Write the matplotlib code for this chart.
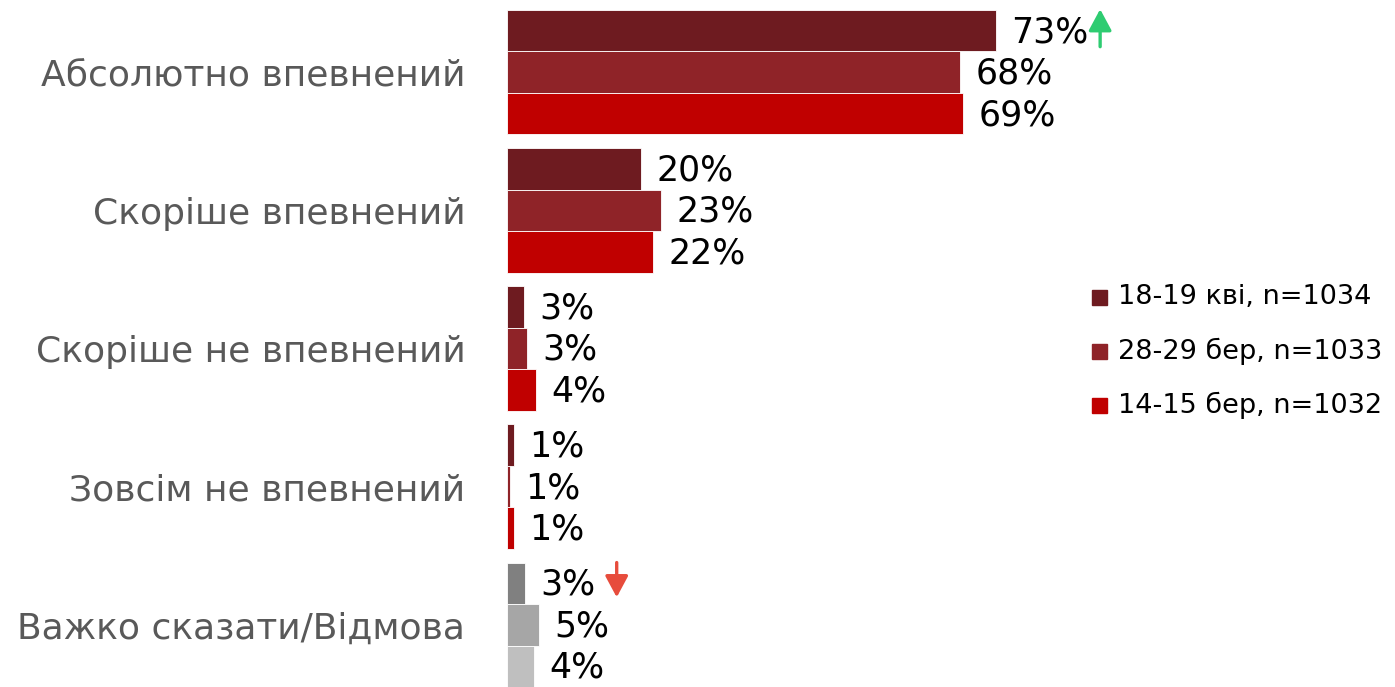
import matplotlib
matplotlib.use("Agg")
import matplotlib.pyplot as plt
import matplotlib.transforms as mtransforms
from matplotlib.patches import FancyArrowPatch
import numpy as np

categories = ["Абсолютно впевнений", "Скоріше впевнений", "Скоріше не впевнений",
              "Зовсім не впевнений", "Важко сказати/Відмова"]
series_names = ["18-19 кві, n=1034", "28-29 бер, n=1033", "14-15 бер, n=1032"]
apr18 = [73.2, 20.1, 2.5, 1.0, 2.7]
mar28 = [67.8, 23.1, 3.0, 0.4, 4.8]
mar14 = [68.3, 21.9, 4.3, 1.0, 4.0]
labels_apr18 = ["73%", "20%", "3%", "1%", "3%"]
labels_mar28 = ["68%", "23%", "3%", "1%", "5%"]
labels_mar14 = ["69%", "22%", "4%", "1%", "4%"]

colors = ["#6E1B20", "#8F2328", "#C00000"]
grays = ["#808080", "#A6A6A6", "#BFBFBF"]

W, H = 1395, 687
fig = plt.figure(figsize=(W / 100, H / 100), dpi=100)
ax = fig.add_axes([507 / W, 0.0, 668 / W, 677 / H])

h = 0.3
ypos = np.arange(len(categories))
series = [apr18, mar28, mar14]
labels = [labels_apr18, labels_mar28, labels_mar14]
for k, (vals, labs) in enumerate(zip(series, labels)):
    cols = [colors[k]] * (len(categories) - 1) + [grays[k]]
    y = ypos + (k - 1) * h
    ax.barh(y, vals, height=h, color=cols, edgecolor="white", linewidth=0.6)
    for yi, v, lab in zip(y, vals, labs):
        ax.annotate(lab, xy=(v, yi), xytext=(11, -1), textcoords="offset points",
                    ha="left", va="center", fontsize=25, color="black")

ax.set_xlim(0, 100)
ax.set_ylim(len(categories) - 1 + 1.5 * h, -1.5 * h)
ax.set_yticks(ypos)
ax.set_yticklabels(categories, fontsize=26, color="#595959")
ax.tick_params(axis="y", length=0, pad=30)
ax.set_xticks([])
for s in ax.spines.values():
    s.set_visible(False)


def trend_arrow(x, y, dx_pt, y0_pt, y1_pt, color):
    t0 = mtransforms.offset_copy(ax.transData, fig, x=dx_pt, y=y0_pt, units="points")
    t1 = mtransforms.offset_copy(ax.transData, fig, x=dx_pt, y=y1_pt, units="points")
    p0 = t0.transform((x, y))
    p1 = t1.transform((x, y))
    arr = FancyArrowPatch(p0, p1, transform=None,
                          arrowstyle="-|>,head_length=13,head_width=7",
                          color=color, lw=2.4, shrinkA=0, shrinkB=0)
    fig.patches.append(arr)


# trend arrows (up for 73%, down for 3%)
trend_arrow(apr18[0], ypos[0] - h, 75, -11.5, 15.5, "#2ECC71")
trend_arrow(apr18[4], ypos[4] - h, 66, 15, -10, "#E74C3C")

# legend
for i, (name, c) in enumerate(zip(series_names, colors)):
    yy = 1 - (297 + 54 * i) / H
    fig.patches.append(plt.Rectangle((1092 / W, yy - 8 / H), 15 / W, 15 / H,
                                     transform=fig.transFigure, color=c))
    fig.text(1118 / W, yy, name, fontsize=19.5, va="center", ha="left", color="black")

fig.savefig("out.png", dpi=100)
